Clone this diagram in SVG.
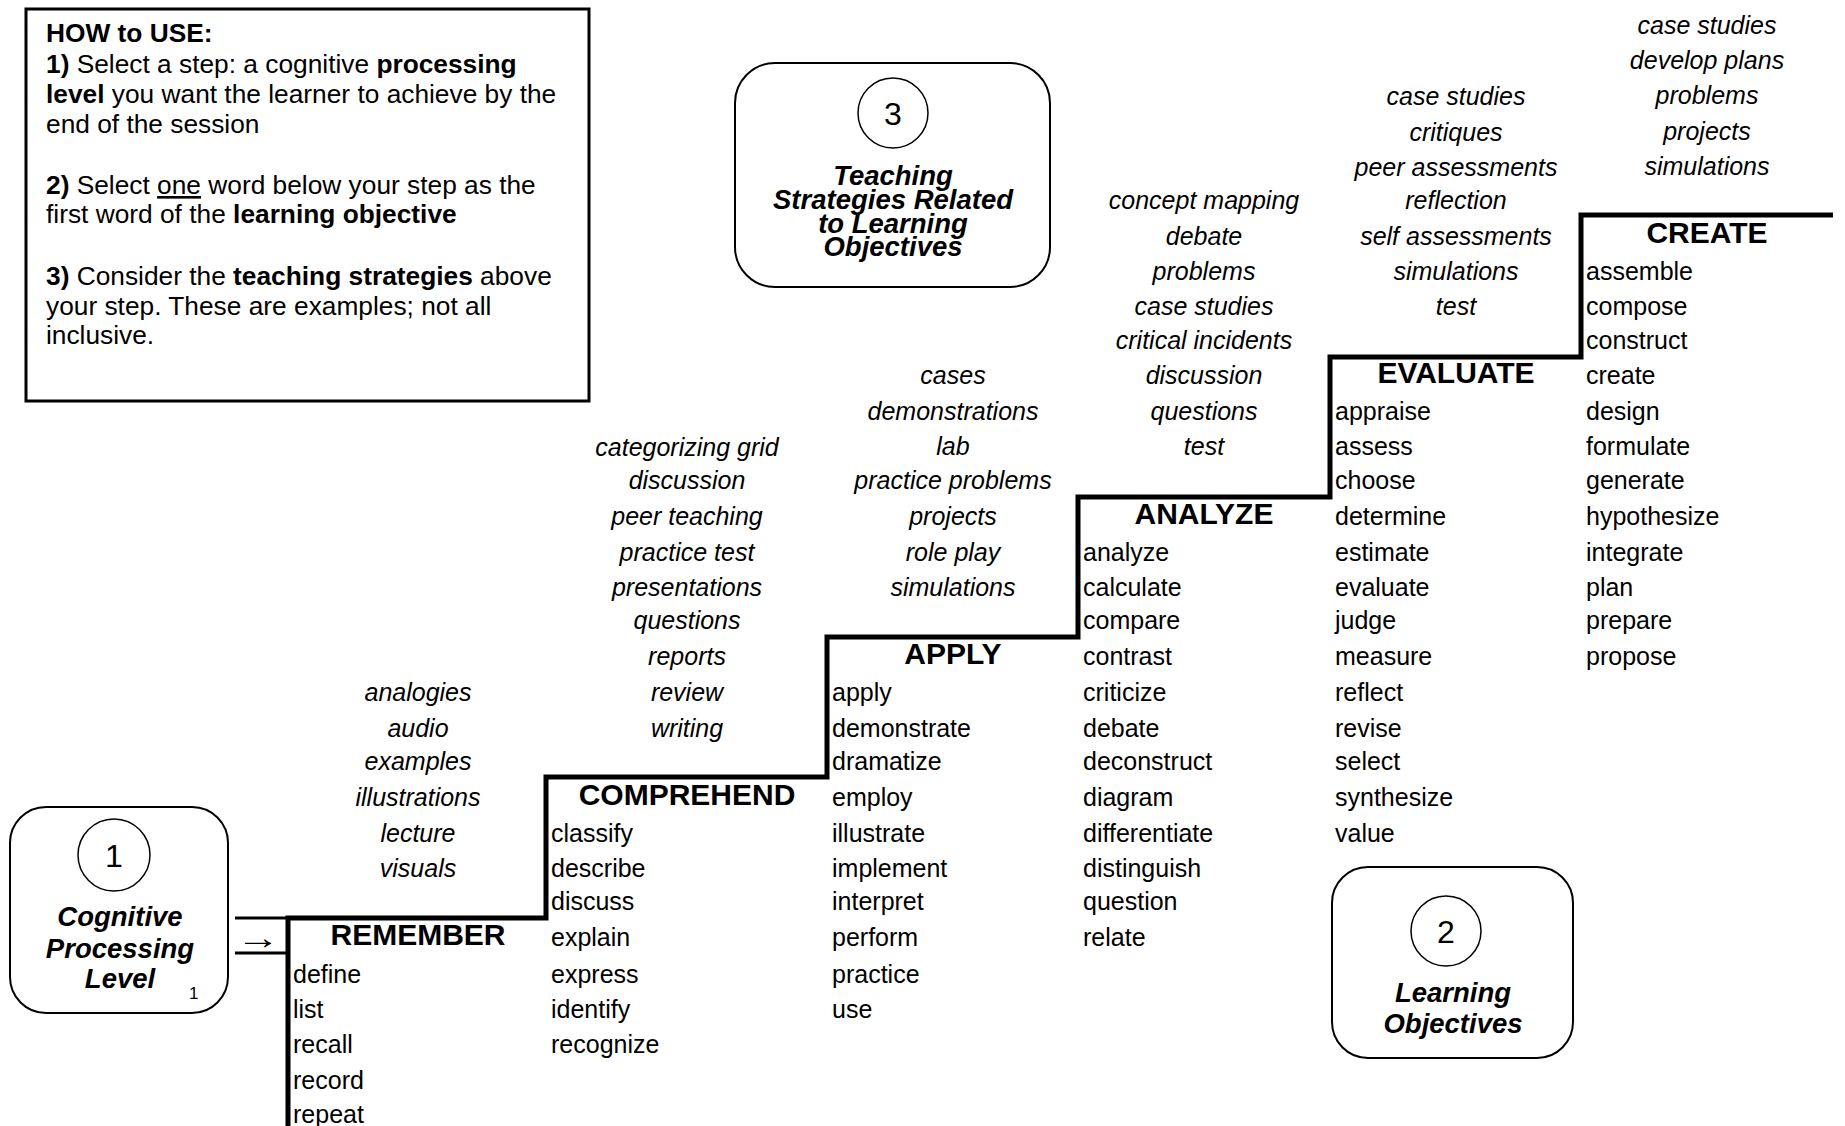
<svg xmlns="http://www.w3.org/2000/svg" width="1845" height="1126" viewBox="0 0 1845 1126">
<style>
text{font-family:"Liberation Sans",Arial,sans-serif;fill:#000}
.v{font-size:25px}
.s{font-size:25px;font-style:italic;text-anchor:middle}
.h{font-size:30px;font-weight:bold;text-anchor:middle}
.how{font-size:26.3px}
.b{font-weight:bold}
.t{font-size:27.5px;font-weight:bold;font-style:italic;text-anchor:middle}
.num{font-size:32px;text-anchor:middle}
.box{fill:#fff;stroke:#000;stroke-width:2}
.circ{fill:#fff;stroke:#000;stroke-width:1.5}
.stair{fill:none;stroke:#000;stroke-width:5}
.conn{fill:none;stroke:#000;stroke-width:3}
</style>
<rect width="1845" height="1126" fill="#fff"/>

<g id="how-to-use">
<rect x="26" y="9" width="563" height="392" fill="#fff" stroke="#000" stroke-width="3"/>
<text class="how" x="46" y="42"><tspan class="b">HOW to USE:</tspan></text>
<text class="how" x="46" y="73"><tspan class="b">1)</tspan> Select a step: a cognitive <tspan class="b">processing</tspan></text>
<text class="how" x="46" y="103"><tspan class="b">level</tspan> you want the learner to achieve by the</text>
<text class="how" x="46" y="133">end of the session</text>
<text class="how" x="46" y="194"><tspan class="b">2)</tspan> Select <tspan text-decoration="underline">one</tspan> word below your step as the</text>
<text class="how" x="46" y="223">first word of the <tspan class="b">learning objective</tspan></text>
<text class="how" x="46" y="285"><tspan class="b">3)</tspan> Consider the <tspan class="b">teaching strategies</tspan> above</text>
<text class="how" x="46" y="315">your step. These are examples; not all</text>
<text class="how" x="46" y="344">inclusive.</text>
</g>

<g id="node-cognitive-level">
<rect class="box" x="10" y="807" width="218" height="206" rx="36"/>
<circle class="circ" cx="114" cy="855" r="36"/>
<text class="num" x="114" y="867">1</text>
<text class="t" x="120" y="926">Cognitive</text>
<text class="t" x="120" y="958">Processing</text>
<text class="t" x="120" y="988">Level</text>
<text x="189" y="999" style="font-size:17px">1</text>
</g>

<g id="node-learning-objectives">
<rect class="box" x="1332" y="867" width="241" height="191" rx="36"/>
<circle class="circ" cx="1446" cy="931" r="35"/>
<text class="num" x="1446" y="943">2</text>
<text class="t" x="1453" y="1002">Learning</text>
<text class="t" x="1453" y="1033">Objectives</text>
</g>

<g id="node-teaching-strategies">
<rect class="box" x="735" y="63" width="315" height="224" rx="40"/>
<circle class="circ" cx="893" cy="113" r="35"/>
<text class="num" x="893" y="125">3</text>
<text class="t" x="893" y="185">Teaching</text>
<text class="t" x="893" y="209">Strategies Related</text>
<text class="t" x="893" y="233">to Learning</text>
<text class="t" x="893" y="256">Objectives</text>
</g>

<g id="connectors">
<path class="stair" d="M288,1126 V918 H546 V777 H827 V637 H1078 V497 H1330 V357 H1581 V215 H1833"/>
<line class="conn" x1="235" y1="918" x2="288" y2="918"/>
<line class="conn" x1="235" y1="953" x2="288" y2="953"/>
<text x="236" y="949" style="font-size:34px" textLength="44" lengthAdjust="spacingAndGlyphs">→</text>
</g>

<g id="step-remember">
<text class="h" x="418" y="945">REMEMBER</text>
<text class="s" x="418" y="701">analogies</text>
<text class="s" x="418" y="737">audio</text>
<text class="s" x="418" y="770">examples</text>
<text class="s" x="418" y="806">illustrations</text>
<text class="s" x="418" y="842">lecture</text>
<text class="s" x="418" y="877">visuals</text>
<text class="v" x="293" y="983">define</text>
<text class="v" x="293" y="1018">list</text>
<text class="v" x="293" y="1053">recall</text>
<text class="v" x="293" y="1089">record</text>
<text class="v" x="293" y="1123">repeat</text>
</g>

<g id="step-comprehend">
<text class="h" x="687" y="805">COMPREHEND</text>
<text class="s" x="687" y="456">categorizing grid</text>
<text class="s" x="687" y="489">discussion</text>
<text class="s" x="687" y="525">peer teaching</text>
<text class="s" x="687" y="561">practice test</text>
<text class="s" x="687" y="596">presentations</text>
<text class="s" x="687" y="629">questions</text>
<text class="s" x="687" y="665">reports</text>
<text class="s" x="687" y="701">review</text>
<text class="s" x="687" y="737">writing</text>
<text class="v" x="551" y="842">classify</text>
<text class="v" x="551" y="877">describe</text>
<text class="v" x="551" y="910">discuss</text>
<text class="v" x="551" y="946">explain</text>
<text class="v" x="551" y="983">express</text>
<text class="v" x="551" y="1018">identify</text>
<text class="v" x="551" y="1053">recognize</text>
</g>

<g id="step-apply">
<text class="h" x="953" y="664">APPLY</text>
<text class="s" x="953" y="384">cases</text>
<text class="s" x="953" y="420">demonstrations</text>
<text class="s" x="953" y="455">lab</text>
<text class="s" x="953" y="489">practice problems</text>
<text class="s" x="953" y="525">projects</text>
<text class="s" x="953" y="561">role play</text>
<text class="s" x="953" y="596">simulations</text>
<text class="v" x="832" y="701">apply</text>
<text class="v" x="832" y="737">demonstrate</text>
<text class="v" x="832" y="770">dramatize</text>
<text class="v" x="832" y="806">employ</text>
<text class="v" x="832" y="842">illustrate</text>
<text class="v" x="832" y="877">implement</text>
<text class="v" x="832" y="910">interpret</text>
<text class="v" x="832" y="946">perform</text>
<text class="v" x="832" y="983">practice</text>
<text class="v" x="832" y="1018">use</text>
</g>

<g id="step-analyze">
<text class="h" x="1204" y="524">ANALYZE</text>
<text class="s" x="1204" y="209">concept mapping</text>
<text class="s" x="1204" y="245">debate</text>
<text class="s" x="1204" y="280">problems</text>
<text class="s" x="1204" y="315">case studies</text>
<text class="s" x="1204" y="349">critical incidents</text>
<text class="s" x="1204" y="384">discussion</text>
<text class="s" x="1204" y="420">questions</text>
<text class="s" x="1204" y="455">test</text>
<text class="v" x="1083" y="561">analyze</text>
<text class="v" x="1083" y="596">calculate</text>
<text class="v" x="1083" y="629">compare</text>
<text class="v" x="1083" y="665">contrast</text>
<text class="v" x="1083" y="701">criticize</text>
<text class="v" x="1083" y="737">debate</text>
<text class="v" x="1083" y="770">deconstruct</text>
<text class="v" x="1083" y="806">diagram</text>
<text class="v" x="1083" y="842">differentiate</text>
<text class="v" x="1083" y="877">distinguish</text>
<text class="v" x="1083" y="910">question</text>
<text class="v" x="1083" y="946">relate</text>
</g>

<g id="step-evaluate">
<text class="h" x="1456" y="383">EVALUATE</text>
<text class="s" x="1456" y="105">case studies</text>
<text class="s" x="1456" y="141">critiques</text>
<text class="s" x="1456" y="176">peer assessments</text>
<text class="s" x="1456" y="209">reflection</text>
<text class="s" x="1456" y="245">self assessments</text>
<text class="s" x="1456" y="280">simulations</text>
<text class="s" x="1456" y="315">test</text>
<text class="v" x="1335" y="420">appraise</text>
<text class="v" x="1335" y="455">assess</text>
<text class="v" x="1335" y="489">choose</text>
<text class="v" x="1335" y="525">determine</text>
<text class="v" x="1335" y="561">estimate</text>
<text class="v" x="1335" y="596">evaluate</text>
<text class="v" x="1335" y="629">judge</text>
<text class="v" x="1335" y="665">measure</text>
<text class="v" x="1335" y="701">reflect</text>
<text class="v" x="1335" y="737">revise</text>
<text class="v" x="1335" y="770">select</text>
<text class="v" x="1335" y="806">synthesize</text>
<text class="v" x="1335" y="842">value</text>
</g>

<g id="step-create">
<text class="h" x="1707" y="243">CREATE</text>
<text class="s" x="1707" y="34">case studies</text>
<text class="s" x="1707" y="69">develop plans</text>
<text class="s" x="1707" y="104">problems</text>
<text class="s" x="1707" y="140">projects</text>
<text class="s" x="1707" y="175">simulations</text>
<text class="v" x="1586" y="280">assemble</text>
<text class="v" x="1586" y="315">compose</text>
<text class="v" x="1586" y="349">construct</text>
<text class="v" x="1586" y="384">create</text>
<text class="v" x="1586" y="420">design</text>
<text class="v" x="1586" y="455">formulate</text>
<text class="v" x="1586" y="489">generate</text>
<text class="v" x="1586" y="525">hypothesize</text>
<text class="v" x="1586" y="561">integrate</text>
<text class="v" x="1586" y="596">plan</text>
<text class="v" x="1586" y="629">prepare</text>
<text class="v" x="1586" y="665">propose</text>
</g>
</svg>
